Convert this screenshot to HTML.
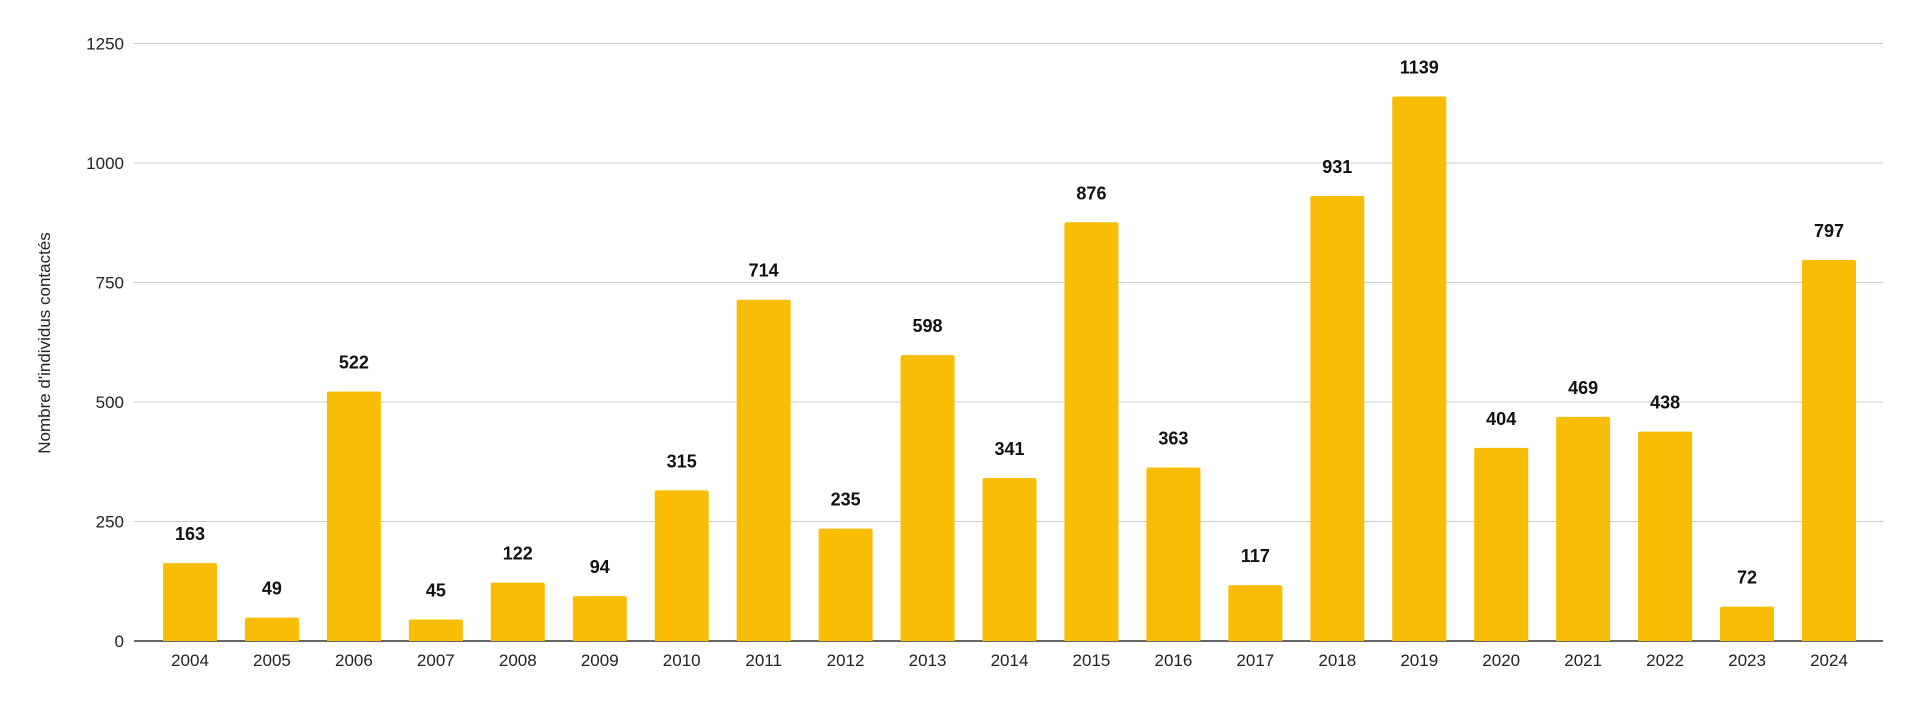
<!DOCTYPE html>
<html><head><meta charset="utf-8">
<style>
html,body{margin:0;padding:0;background:#fff;}
svg{display:block;font-family:"Liberation Sans",Arial,sans-serif;}
</style></head>
<body>
<svg id="chart" width="1920" height="704" viewBox="0 0 1920 704" xmlns="http://www.w3.org/2000/svg">
<g id="grid"></g>
<g id="yticks"></g>
<g id="bars"></g>
<g id="vals"></g>
<g id="xticks"></g>
<text x="0" y="0" transform="translate(50,343) rotate(-90)" text-anchor="middle" font-size="17" fill="#222">Nombre d'individus contactés</text>
</svg>
<script>
const categories = ["2004","2005","2006","2007","2008","2009","2010","2011","2012","2013","2014","2015","2016","2017","2018","2019","2020","2021","2022","2023","2024"];
const values = [163,49,522,45,122,94,315,714,235,598,341,876,363,117,931,1139,404,469,438,72,797];
const yTicks = [0,250,500,750,1000,1250];
const NS="http://www.w3.org/2000/svg";
const plotL=134, plotR=1883, y0=641, yTop=43.5, yMax=1250;
const firstC=190, step=81.95, bw=54;
function y(v){return y0-(v/yMax)*(y0-yTop);}
function x(i){return firstC+i*step;}
function mk(tag,attrs,parent){const e=document.createElementNS(NS,tag);for(const k in attrs)e.setAttribute(k,attrs[k]);parent.appendChild(e);return e;}
const grid=document.getElementById('grid'),yt=document.getElementById('yticks'),bars=document.getElementById('bars'),vals=document.getElementById('vals'),xt=document.getElementById('xticks');
yTicks.forEach(t=>{
  const l=mk('line',{x1:plotL,x2:plotR,y1:y(t),y2:y(t),stroke:t===0?'#333':'#ccc','stroke-width':t===0?1.5:1},grid);
  
  
  const tx=mk('text',{x:124,y:y(t)+6,'text-anchor':'end','font-size':17,fill:'#222'},yt);
  tx.textContent=t;
  
  
});
values.forEach((v,i)=>{
  const r=mk('path',{d:`M${x(i)-bw/2},${y0} V${y(v)+2} Q${x(i)-bw/2},${y(v)} ${x(i)-bw/2+2},${y(v)} H${x(i)+bw/2-2} Q${x(i)+bw/2},${y(v)} ${x(i)+bw/2},${y(v)+2} V${y0} Z`,fill:'#f9bd06'},bars);
  
  
  const t=mk('text',{x:x(i),y:y(v)-23,'text-anchor':'middle','font-size':18,'font-weight':'bold',fill:'#111'},vals);
  t.textContent=v;
  
  
  const c=mk('text',{x:x(i),y:666,'text-anchor':'middle','font-size':17,fill:'#222'},xt);
  c.textContent=categories[i];
  
  
});
</script>
</body></html>
